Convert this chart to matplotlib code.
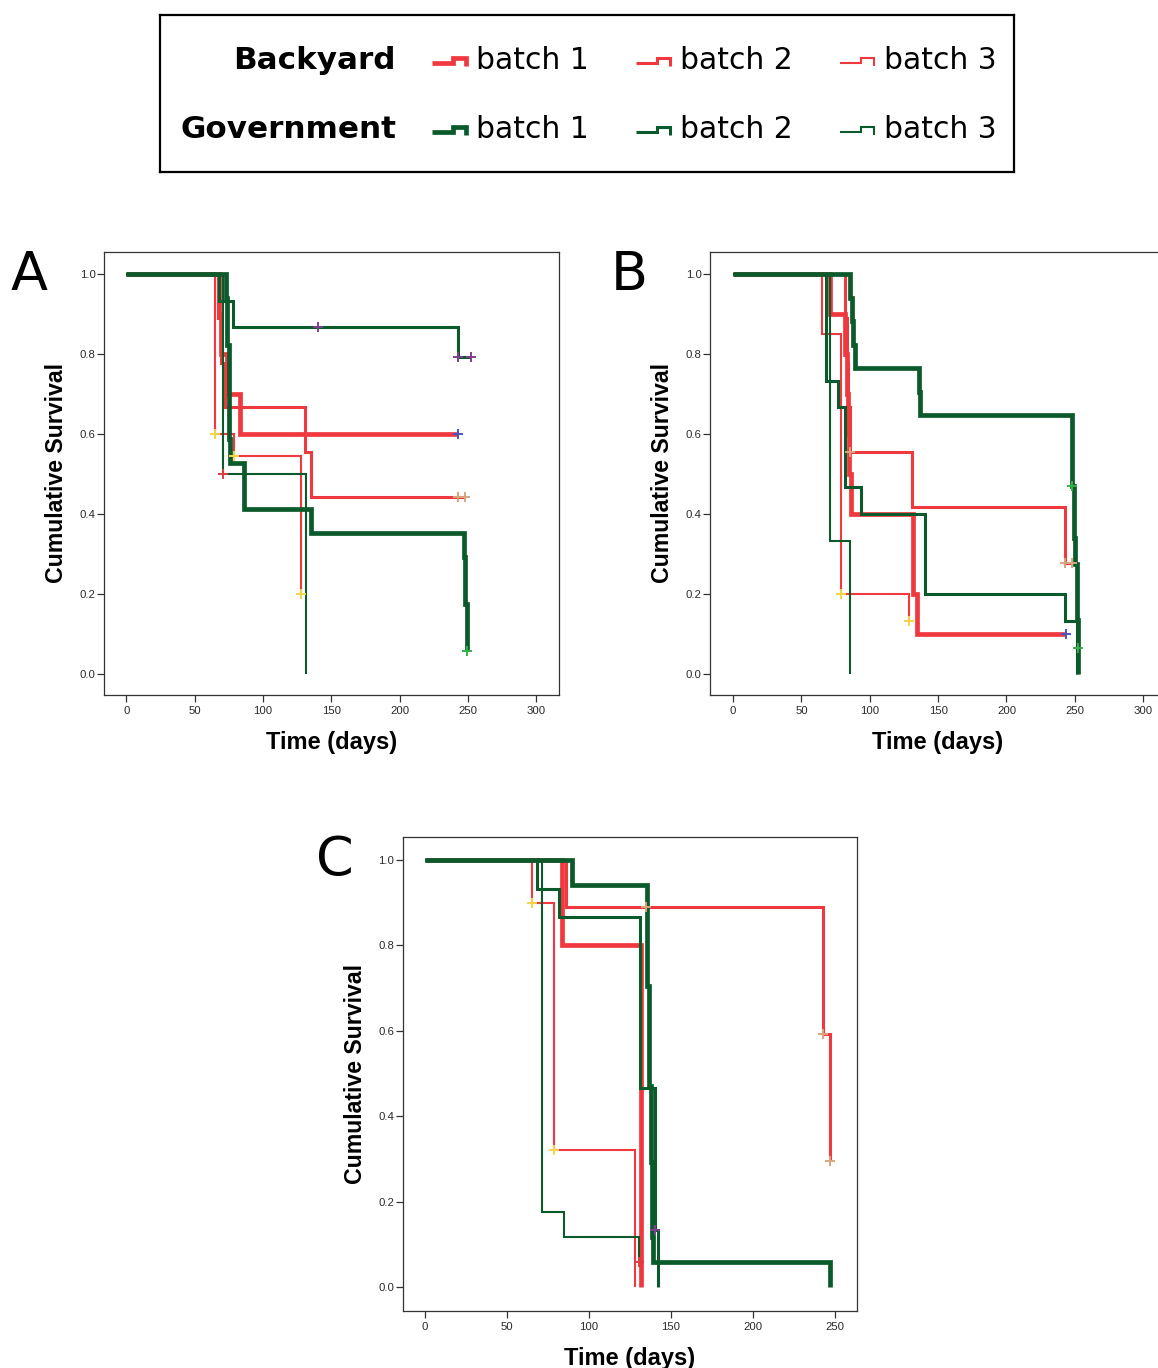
import matplotlib
matplotlib.use("Agg")
import numpy as np
import matplotlib.pyplot as plt

# ── data (days, cumulative survival) ─────────────────────────────────────────
SERIES = ["Backyard batch 1", "Backyard batch 2", "Backyard batch 3",
          "Government batch 1", "Government batch 2", "Government batch 3"]
GROUPS = ["Backyard", "Government"]
BATCHES = ["batch 1", "batch 2", "batch 3"]

A_TIMES = [
    [0, 68, 69, 74, 83, 243],
    [0, 67, 69, 72, 131, 135, 248],
    [0, 65, 79, 128],
    [0, 73, 74, 75, 76, 86, 135, 247, 248, 249.3],
    [0, 68, 78, 243, 252],
    [0, 71, 131.5],
]
A_SURV = [
    [1.0, 0.9, 0.8, 0.7, 0.6, 0.6],
    [1.0, 0.889, 0.778, 0.667, 0.556, 0.444, 0.444],
    [1.0, 0.6, 0.545, 0.2],
    [1.0, 0.941, 0.824, 0.588, 0.529, 0.412, 0.353, 0.294, 0.176, 0.059],
    [1.0, 0.933, 0.867, 0.794, 0.794],
    [1.0, 0.5, 0.0],
]
A_CENS = [[243], [243, 248], [65, 79, 128], [249.3], [140, 243, 252], [71]]

B_TIMES = [
    [0, 70.7, 82.2, 83, 84, 85, 86.6, 131.7, 134.6, 243.9],
    [0, 82.2, 83, 84, 85.4, 131.2, 242.6, 247.6],
    [0, 65.1, 79.3, 128.5],
    [0, 85.4, 87, 88, 89.5, 135.9, 137.1, 247.6, 249.5, 250.5, 251.5, 252, 252.7],
    [0, 68.3, 76.8, 82.2, 93.4, 140.2, 243.2, 251.7],
    [0, 70.7, 85.4],
]
B_SURV = [
    [1.0, 0.9, 0.8, 0.7, 0.6, 0.5, 0.4, 0.2, 0.1, 0.1],
    [1.0, 0.889, 0.778, 0.667, 0.556, 0.417, 0.278, 0.278],
    [1.0, 0.85, 0.2, 0.133],
    [1.0, 0.941, 0.882, 0.824, 0.765, 0.706, 0.647, 0.471, 0.34, 0.275, 0.135, 0.067, 0.0],
    [1.0, 0.733, 0.667, 0.467, 0.4, 0.2, 0.133, 0.0],
    [1.0, 0.333, 0.0],
]
B_CENS = [[243.9], [85.4, 242.6, 247.6], [79.3, 128.5], [247.6, 252], [], []]

C_TIMES = [
    [0, 83.3, 132],
    [0, 85.8, 242.9, 247],
    [0, 65.4, 78.9, 128],
    [0, 89.4, 135.2, 136.5, 137.5, 138.5, 139.3, 247],
    [0, 68.1, 81.9, 131.1, 140.2, 141.9],
    [0, 71.1, 85, 130.7],
]
C_SURV = [
    [1.0, 0.8, 0.0],
    [1.0, 0.889, 0.593, 0.296],
    [1.0, 0.9, 0.32, 0.0],
    [1.0, 0.941, 0.706, 0.471, 0.294, 0.118, 0.059, 0.0],
    [1.0, 0.933, 0.867, 0.467, 0.133, 0.0],
    [1.0, 0.176, 0.118, 0.059],
]
C_CENS = [[], [134.8, 242.9, 247], [65.4, 78.9], [], [140.2], [130.7]]

X_TICKS_AB = [0, 50, 100, 150, 200, 250, 300]
X_TICKS_C = [0, 50, 100, 150, 200, 250]
Y_TICKS = [0.0, 0.2, 0.4, 0.6, 0.8, 1.0]

# ── style ────────────────────────────────────────────────────────────────────
W, H, DPI = 1158, 1368, 100
C_RED = "#F0393E"
C_GREEN = "#0B5A2C"
C_AXIS = "#333333"
SERIES_COLORS = [C_RED, C_RED, C_RED, C_GREEN, C_GREEN, C_GREEN]
SERIES_LW = [3.4, 2.2, 1.5, 3.4, 2.2, 1.5]
CENSOR_COLORS = ["#4757C4", "#D9A57E", "#F3D44A", "#35B04A", "#7E3F8E", "#D94040"]
FONT_AX = "Liberation Sans"
FONT_LEG = "DejaVu Sans"

plt.rcParams["font.family"] = FONT_AX


def rect(l, t, r, b):
    return [l / W, 1 - b / H, (r - l) / W, (b - t) / H]


def panel(box, xlim, ylim, xticks, times, surv, cens):
    ax = fig.add_axes(rect(*box))
    # draw thin first, greens on top
    for i in [2, 1, 0, 5, 4, 3]:
        t = np.array(times[i], dtype=float)
        s = np.array(surv[i], dtype=float)
        ax.step(t, s, where="post", color=SERIES_COLORS[i], lw=SERIES_LW[i],
                solid_joinstyle="miter", solid_capstyle="butt", zorder=3)
        if cens[i]:
            c = np.array(cens[i], dtype=float)
            idx = np.searchsorted(t, c, side="right") - 1
            ax.plot(c, s[idx], ls="none", marker="+", ms=7, mew=1.4,
                    color=CENSOR_COLORS[i], zorder=5)
    ax.set_xlim(*xlim)
    ax.set_ylim(*ylim)
    ax.set_xticks(xticks)
    ax.set_yticks(Y_TICKS)
    ax.set_yticklabels([f"{v:.1f}" for v in Y_TICKS])
    ax.tick_params(direction="out", length=5, width=0.9, color=C_AXIS,
                   labelsize=8.2, labelcolor="#2A2A2A")
    ax.tick_params(axis="y", pad=1)
    ax.tick_params(axis="x", pad=3)
    for sp in ax.spines.values():
        sp.set_color(C_AXIS)
        sp.set_linewidth(0.9)
    ax.set_xlabel("Time (days)", fontsize=17, fontweight="bold", va="baseline")
    ax.set_ylabel("Cumulative Survival", fontsize=16.7, fontweight="bold", va="baseline")
    hpx = box[3] - box[1]
    wpx = box[2] - box[0]
    ax.xaxis.set_label_coords(0.5, -54.5 / hpx)
    ax.yaxis.set_label_coords(-41 / wpx, 0.5)
    return ax


fig = plt.figure(figsize=(W / DPI, H / DPI), dpi=DPI, facecolor="white")

YLIM = (-0.05, 1.055)
panel((104, 252, 559, 694.5), (-16.3, 316.6), YLIM, X_TICKS_AB, A_TIMES, A_SURV, A_CENS)
panel((710, 252, 1165, 694.5), (-16.9, 316.0), YLIM, X_TICKS_AB, B_TIMES, B_SURV, B_CENS)
panel((402.7, 836.7, 857, 1310.7), (-13.6, 263.4), (-0.055, 1.0545), X_TICKS_C,
      C_TIMES, C_SURV, C_CENS)

# panel letters
for letter, x, y in [("A", 29, 290), ("B", 629, 290), ("C", 335, 875)]:
    fig.text(x / W, 1 - y / H, letter, ha="center", va="baseline",
             fontsize=39, family=FONT_LEG)

# ── legend box ───────────────────────────────────────────────────────────────
lg = fig.add_axes(rect(160, 15, 1014, 172))
lg.set_xlim(160, 1014)
lg.set_ylim(172, 15)
lg.set_xticks([])
lg.set_yticks([])
for sp in lg.spines.values():
    sp.set_color("black")
    sp.set_linewidth(1.6)

row_base = [69, 138]
col_x = [432, 636, 840]
hx = np.array([0, 21, 21, 34, 34])
hy = np.array([0, 0, -5, -5, 3.5])
for r, grp in enumerate(GROUPS):
    yb = row_base[r]
    lg.text(396, yb, grp, ha="right", va="baseline", fontsize=22.3,
            fontweight="bold", family=FONT_LEG)
    for c, bat in enumerate(BATCHES):
        k = r * 3 + c
        lg.plot(col_x[c] + hx, yb - 6.3 + hy, color=SERIES_COLORS[k],
                lw=SERIES_LW[k], solid_joinstyle="miter", solid_capstyle="butt")
        lg.text(col_x[c] + 44, yb, bat, ha="left", va="baseline",
                fontsize=21.5, family=FONT_LEG)

fig.savefig("out.png", dpi=DPI, facecolor="white")
